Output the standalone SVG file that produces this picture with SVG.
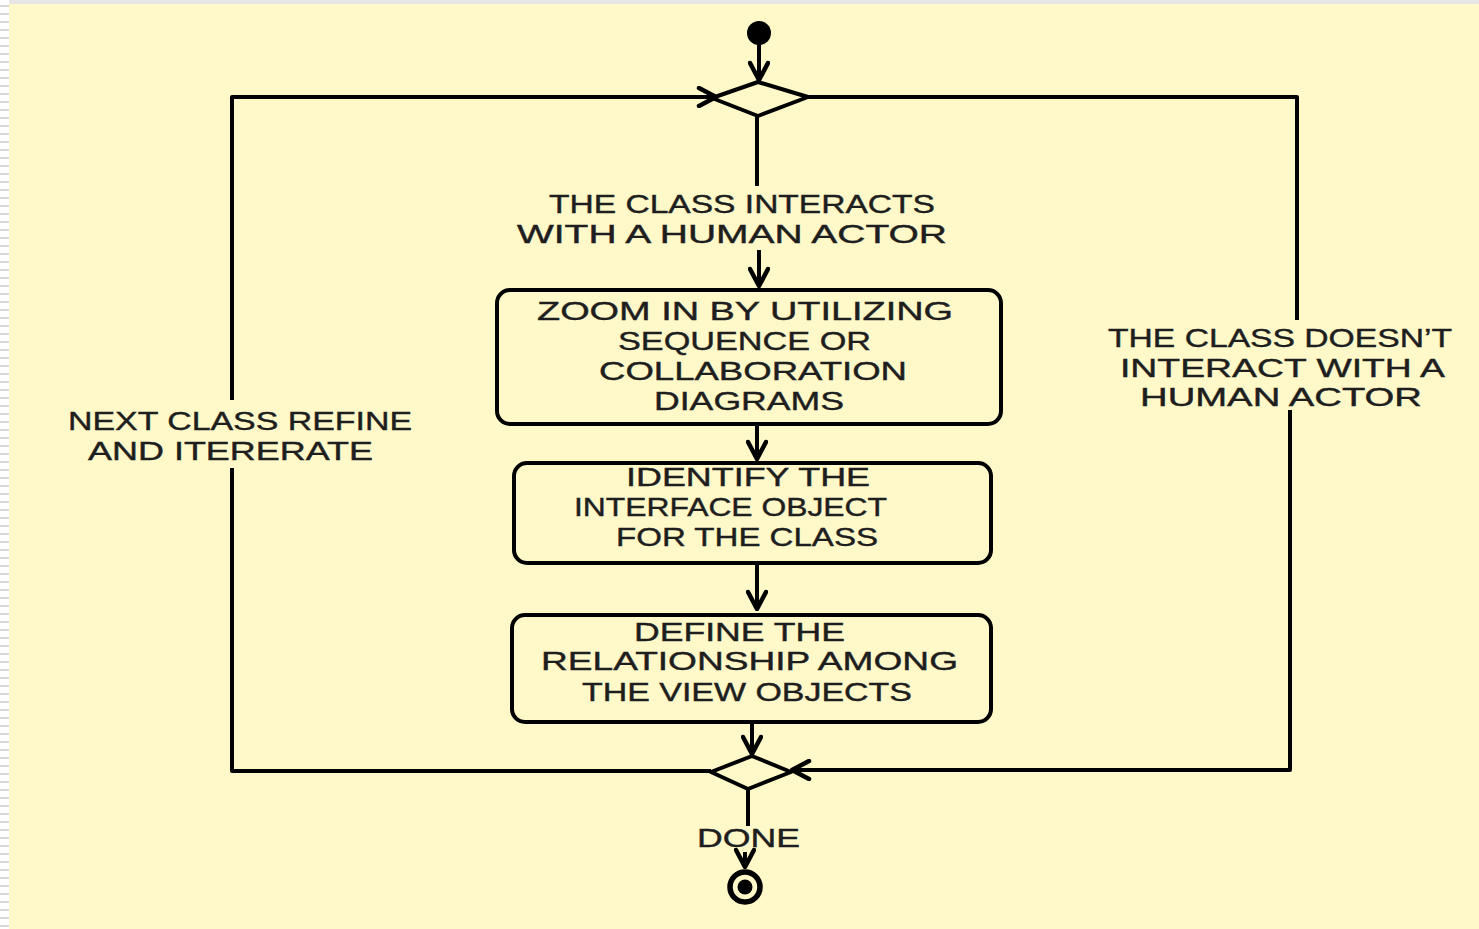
<svg xmlns="http://www.w3.org/2000/svg" width="1479" height="929" viewBox="0 0 1479 929">
<defs>
<pattern id="stripes" x="0" y="0" width="9" height="8" patternUnits="userSpaceOnUse">
<rect x="0" y="0" width="9" height="8" fill="#ffffff"/>
<rect x="0" y="5" width="9" height="2" fill="#d8d8d8"/>
</pattern>
<marker id="arr" viewBox="0 0 22 22" refX="20" refY="11" markerWidth="22" markerHeight="22" markerUnits="userSpaceOnUse" orient="auto">
<path d="M3,2 L20,11 L3,20" fill="none" stroke="#000" stroke-width="4.5" stroke-linecap="round" stroke-linejoin="round"/>
</marker>
</defs>
<style>
.bg{fill:#fff8c9}
.ln{fill:none;stroke:#000;stroke-width:4;stroke-linejoin:round}
.box{fill:none;stroke:#000;stroke-width:4}
.t{font-family:"Liberation Sans",Arial,sans-serif;font-size:25px;fill:#1e1e1e;stroke:#1e1e1e;stroke-width:0.4}
</style>
<rect class="bg" x="0" y="0" width="1479" height="929"/>
<rect x="0" y="0" width="1479" height="4" fill="#e6e6e6"/>
<rect x="0" y="0" width="9" height="929" fill="url(#stripes)"/>

<g id="connectors">
<line class="ln" x1="759" y1="40" x2="759" y2="80" marker-end="url(#arr)"/>
<polyline class="ln" points="232,400 232,97 716,97" marker-end="url(#arr)"/>
<line class="ln" x1="757" y1="116" x2="757" y2="186"/>
<line class="ln" x1="759" y1="250" x2="759" y2="286" marker-end="url(#arr)"/>
<line class="ln" x1="757" y1="424" x2="757" y2="459" marker-end="url(#arr)"/>
<line class="ln" x1="757" y1="563" x2="757" y2="609" marker-end="url(#arr)"/>
<line class="ln" x1="752" y1="722" x2="752" y2="754" marker-end="url(#arr)"/>
<polyline class="ln" points="1297,320 1297,97 808,97"/>
<polyline class="ln" points="1290,410 1290,770 792,770" marker-end="url(#arr)"/>
<polyline class="ln" points="232,468 232,771 711,771"/>
<line class="ln" x1="748" y1="789" x2="748" y2="826"/>
<line class="ln" x1="745" y1="852" x2="745" y2="867" marker-end="url(#arr)"/>
</g>

<g id="start"><circle cx="759" cy="33" r="12" fill="#000"/></g>

<g id="decision-top"><polygon class="ln" points="712,98 758,82 808,97 758,116" fill="#fff8c9"/></g>

<g id="label-interacts">
<text class="t" x="549" y="213" textLength="386" lengthAdjust="spacingAndGlyphs">THE CLASS INTERACTS</text>
<text class="t" x="517" y="243" textLength="430" lengthAdjust="spacingAndGlyphs">WITH A HUMAN ACTOR</text>
</g>

<g id="box-zoom">
<rect class="box" x="497" y="290" width="504" height="134" rx="13"/>
<text class="t" x="537" y="320" textLength="416" lengthAdjust="spacingAndGlyphs">ZOOM IN BY UTILIZING</text>
<text class="t" x="618" y="350" textLength="253" lengthAdjust="spacingAndGlyphs">SEQUENCE OR</text>
<text class="t" x="599" y="380" textLength="308" lengthAdjust="spacingAndGlyphs">COLLABORATION</text>
<text class="t" x="654" y="410" textLength="190" lengthAdjust="spacingAndGlyphs">DIAGRAMS</text>
</g>

<g id="box-identify">
<rect class="box" x="514" y="463" width="477" height="100" rx="13"/>
<text class="t" x="626" y="486" textLength="244" lengthAdjust="spacingAndGlyphs">IDENTIFY THE</text>
<text class="t" x="574" y="516" textLength="313" lengthAdjust="spacingAndGlyphs">INTERFACE OBJECT</text>
<text class="t" x="616" y="546" textLength="262" lengthAdjust="spacingAndGlyphs">FOR THE CLASS</text>
</g>

<g id="box-define">
<rect class="box" x="512" y="615" width="479" height="107" rx="13"/>
<text class="t" x="634" y="641" textLength="211" lengthAdjust="spacingAndGlyphs">DEFINE THE</text>
<text class="t" x="541" y="670" textLength="417" lengthAdjust="spacingAndGlyphs">RELATIONSHIP AMONG</text>
<text class="t" x="582" y="701" textLength="330" lengthAdjust="spacingAndGlyphs">THE VIEW OBJECTS</text>
</g>

<g id="decision-bottom"><polygon class="ln" points="711,772 752,756 791,772 748,789" fill="#fff8c9"/></g>

<g id="label-next">
<text class="t" x="68" y="430" textLength="344" lengthAdjust="spacingAndGlyphs">NEXT CLASS REFINE</text>
<text class="t" x="88" y="460" textLength="285" lengthAdjust="spacingAndGlyphs">AND ITERERATE</text>
</g>

<g id="label-doesnt">
<text class="t" x="1108" y="347" textLength="344" lengthAdjust="spacingAndGlyphs">THE CLASS DOESN’T</text>
<text class="t" x="1120" y="377" textLength="325" lengthAdjust="spacingAndGlyphs">INTERACT WITH A</text>
<text class="t" x="1140" y="406" textLength="282" lengthAdjust="spacingAndGlyphs">HUMAN ACTOR</text>
</g>

<g id="label-done"><text class="t" x="697" y="847" textLength="103" lengthAdjust="spacingAndGlyphs">DONE</text></g>

<g id="end">
<circle cx="745" cy="887" r="15" fill="none" stroke="#000" stroke-width="5.5"/>
<circle cx="745" cy="887" r="7.5" fill="#000"/>
</g>
</svg>
